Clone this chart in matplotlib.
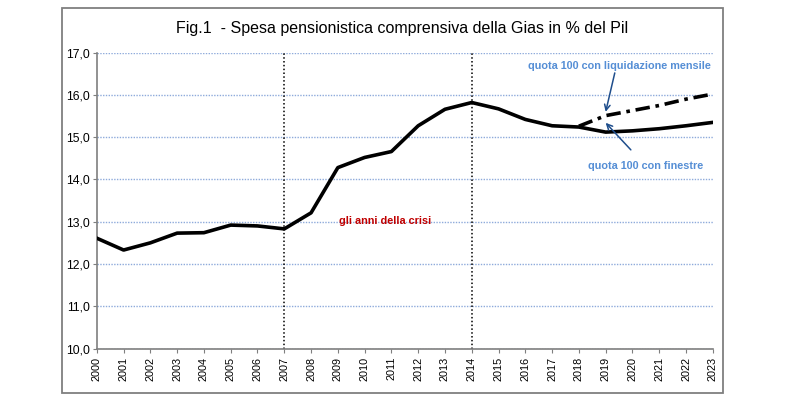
import matplotlib
matplotlib.use('Agg')
import matplotlib.pyplot as plt
from matplotlib.patches import Rectangle
from matplotlib.ticker import FuncFormatter

# dati (spesa pensionistica in % del Pil)
anni = list(range(2000, 2024))
spesa_finestre = [12.61, 12.33, 12.50, 12.73, 12.74, 12.92, 12.90, 12.83, 13.21, 14.28,
                  14.52, 14.66, 15.27, 15.66, 15.82, 15.67, 15.42, 15.27, 15.24, 15.12,
                  15.15, 15.20, 15.27, 15.35]
anni_mensile = [2018, 2019, 2020, 2021, 2022, 2023]
spesa_mensile = [15.26, 15.51, 15.63, 15.75, 15.90, 16.02]
anni_crisi = [2007, 2014]

plt.rcParams['font.family'] = ['Liberation Sans', 'DejaVu Sans']

fig = plt.figure(figsize=(8, 4.05), dpi=100)
ax = fig.add_axes([0.121, 0.1395, 0.77, 0.7305])

# cornice grigia attorno al grafico
fig.patches.append(Rectangle((62 / 800, 1 - 393 / 405), 661 / 800, 385 / 405,
                             transform=fig.transFigure, fill=False,
                             edgecolor='#7f7f7f', linewidth=1.3))

fig.text(0.502, 1 - 29 / 405, 'Fig.1  - Spesa pensionistica comprensiva della Gias in % del Pil',
         ha='center', va='center', fontsize=11.5)

ax.plot(anni, spesa_finestre, color='black', linewidth=2.6, solid_joinstyle='round', zorder=3)
ax.plot(anni_mensile, spesa_mensile, color='black', linewidth=2.6,
        dashes=(4, 1.6, 1, 1.6), zorder=3)

for a in anni_crisi:
    ax.axvline(a, color='black', linestyle=(0, (1, 1.5)), linewidth=1.1, zorder=2)

ax.set_xlim(2000, 2023)
ax.set_ylim(10, 17)
ax.set_xticks(anni)
ax.set_xticklabels([str(a) for a in anni], rotation=90, fontsize=7.8)
ax.set_yticks(range(10, 18))
ax.yaxis.set_major_formatter(FuncFormatter(lambda v, p: f'{v:.1f}'.replace('.', ',')))
ax.tick_params(axis='y', labelsize=8.8, length=3, color='#7f7f7f', pad=2)
ax.tick_params(axis='x', length=3, color='#7f7f7f', pad=3)

ax.grid(axis='y', color='#8eaadb', linestyle=(0, (1, 1)), linewidth=1.0)
ax.set_axisbelow(True)
for s in ['top', 'right']:
    ax.spines[s].set_visible(False)
for s in ['left', 'bottom']:
    ax.spines[s].set_color('#7f7f7f')
    ax.spines[s].set_linewidth(1.2)

ax.text(2010.75, 13.02, 'gli anni della crisi', color='#c00000', fontsize=7.8,
        fontweight='bold', ha='center', va='center')

blu = '#558ed5'
freccia = dict(arrowstyle='->', color='#1f4e8c', lw=1.1, shrinkA=0, shrinkB=0)
ax.text(2019.5, 16.69, 'quota 100 con liquidazione mensile', color=blu, fontsize=7.8,
        fontweight='bold', ha='center', va='center')
ax.annotate('', xy=(2019.0, 15.6), xytext=(2019.34, 16.52), arrowprops=freccia)
ax.text(2020.5, 14.32, 'quota 100 con finestre', color=blu, fontsize=7.8,
        fontweight='bold', ha='center', va='center')
ax.annotate('', xy=(2019.0, 15.34), xytext=(2019.94, 14.70), arrowprops=freccia)

fig.savefig('out.png', dpi=100)
